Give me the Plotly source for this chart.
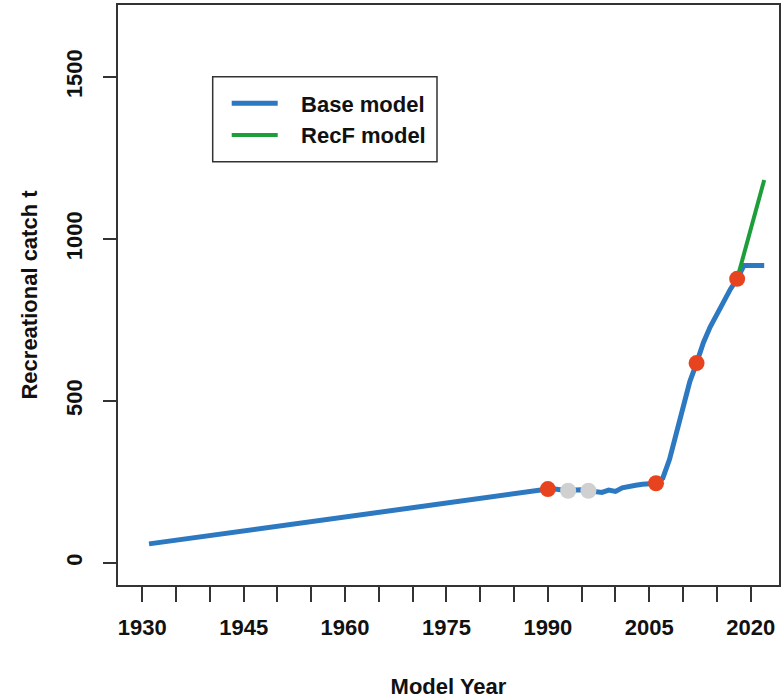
import plotly.graph_objects as go

# ---- data ----
base_years = [1931, 1945, 1960, 1975, 1990, 1991, 1992, 1993, 1994, 1995, 1996,
              1997, 1998, 1999, 2000, 2001, 2002, 2003, 2004, 2005, 2006,
              2007, 2008, 2009, 2010, 2011, 2012, 2013, 2014, 2015, 2016,
              2017, 2018, 2019, 2020, 2021, 2022]
base_catch = [59, 100, 142, 185, 228, 228, 226, 223, 225, 226, 223,
              220, 218, 225, 221, 232, 238, 240, 243, 244, 246,
              262, 320, 400, 480, 560, 617, 680, 728, 768, 805,
              845, 877, 918, 918, 918, 918]

recf_years = [2018, 2019, 2020, 2021, 2022]
recf_catch = [877, 953, 1030, 1106, 1182]

red_years = [1990, 2006, 2012, 2018]
red_catch = [228, 246, 617, 877]
gray_years = [1993, 1996]
gray_catch = [223, 223]

x_tickvals = list(range(1930, 2021, 5))
x_ticktext = [str(v) if (v - 1930) % 15 == 0 else "" for v in x_tickvals]
y_tickvals = [0, 500, 1000, 1500]

FONT = "Liberation Sans, Arial, sans-serif"
AX = "#333333"
BLUE = "#2C79C2"
GREEN = "#1E9E3A"

# plot-area pixel geometry
L, R, T, B = 118, 779, 5, 585
PW, PH = R - L, B - T

fig = go.Figure()
fig.add_trace(go.Scatter(x=base_years, y=base_catch, mode="lines",
                         name="\u00a0\u00a0\u00a0Base model",
                         line=dict(color=BLUE, width=5)))
fig.add_trace(go.Scatter(x=recf_years, y=recf_catch, mode="lines",
                         name="\u00a0\u00a0\u00a0RecF model",
                         line=dict(color=GREEN, width=4)))
fig.add_trace(go.Scatter(x=gray_years, y=gray_catch, mode="markers", showlegend=False,
                         marker=dict(color="#D0D0D0", size=16, line=dict(width=0))))
fig.add_trace(go.Scatter(x=red_years, y=red_catch, mode="markers", showlegend=False,
                         marker=dict(color="#E8431F", size=16, line=dict(width=0))))

fig.update_layout(
    width=781, height=699,
    margin=dict(l=L, r=781 - R, t=T, b=699 - B, autoexpand=False),
    paper_bgcolor="white", plot_bgcolor="white",
    font=dict(family=FONT, size=22, color="#111111"),
    showlegend=True,
    legend=dict(x=(226.7 - L) / PW, y=(B - 82.5) / PH, xanchor="left", yanchor="top",
                xref="paper", yref="paper",
                bgcolor="rgba(0,0,0,0)", borderwidth=0,
                font=dict(family=FONT, size=22, color="#111111", weight="bold"),
                itemwidth=46, tracegroupgap=0),
    shapes=[dict(type="rect", xref="paper", yref="paper",
                 x0=(212.7 - L) / PW, x1=(437 - L) / PW,
                 y0=(B - 161.7) / PH, y1=(B - 76.7) / PH,
                 line=dict(color="#333333", width=1.5), fillcolor="rgba(0,0,0,0)")],
)

fig.update_xaxes(
    range=[1926.41, 2024.19], showgrid=False, zeroline=False,
    showline=True, mirror=True, linecolor=AX, linewidth=1.5,
    ticks="outside", ticklen=15, tickwidth=1.5, tickcolor=AX,
    tickvals=x_tickvals, ticktext=x_ticktext, ticklabelstandoff=7,
    tickfont=dict(family=FONT, size=22, color="#111111", weight="bold"),
    title=dict(text="Model Year", standoff=40,
               font=dict(family=FONT, size=22, color="#111111", weight="bold")),
)
fig.update_yaxes(
    range=[-67.9, 1722], showgrid=False, zeroline=False,
    showline=True, mirror=True, linecolor=AX, linewidth=1.5,
    ticks="outside", ticklen=13, tickwidth=1.5, tickcolor=AX,
    tickvals=y_tickvals, tickangle=-90, ticklabelstandoff=12,
    tickfont=dict(family=FONT, size=22, color="#111111", weight="bold"),
    title=dict(text="Recreational catch t", standoff=19,
               font=dict(family=FONT, size=22, color="#111111", weight="bold")),
)

fig.write_html("out.html")
